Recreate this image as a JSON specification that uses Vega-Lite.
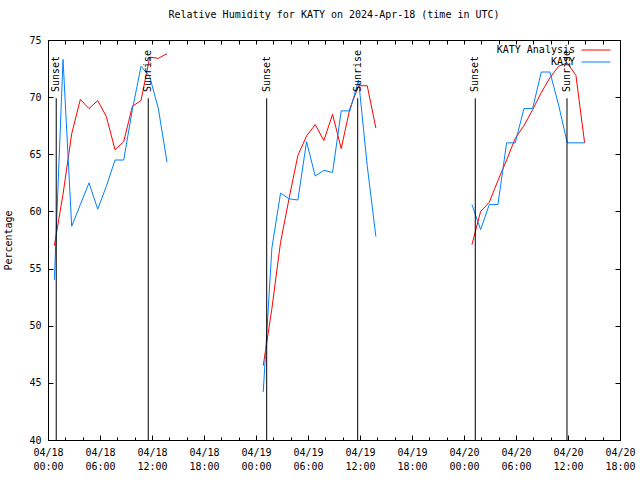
{
  "$schema": "https://vega.github.io/schema/vega-lite/v6.json",
  "width": 572,
  "height": 400,
  "autosize": {"type": "none"},
  "padding": {"left": 48, "top": 40, "right": 20, "bottom": 40},
  "background": "white",
  "title": {"text": "Relative Humidity for KATY on 2024-Apr-18 (time in UTC)", "anchor": "middle", "frame": "group", "offset": 15, "font": "DejaVu Sans Mono", "fontSize": 10, "fontWeight": "normal", "color": "black"},
  "config": {
    "view": {"stroke": "black", "strokeWidth": 1},
    "font": "DejaVu Sans Mono",
    "axis": {"labelFont": "DejaVu Sans Mono", "labelFontSize": 10, "labelColor": "black", "tickColor": "black", "tickWidth": 1, "titleFont": "DejaVu Sans Mono", "titleFontSize": 10, "titleFontWeight": "normal", "titleColor": "black", "grid": false, "domain": false}
  },
  "datasets": {
    "series": [
      {"t": "2024-04-18T00:44:00Z", "v": 57.0, "s": "KATY Analysis", "g": 1},
      {"t": "2024-04-18T01:44:00Z", "v": 61.5, "s": "KATY Analysis", "g": 1},
      {"t": "2024-04-18T02:44:00Z", "v": 66.8, "s": "KATY Analysis", "g": 1},
      {"t": "2024-04-18T03:44:00Z", "v": 69.8, "s": "KATY Analysis", "g": 1},
      {"t": "2024-04-18T04:44:00Z", "v": 69.0, "s": "KATY Analysis", "g": 1},
      {"t": "2024-04-18T05:44:00Z", "v": 69.7, "s": "KATY Analysis", "g": 1},
      {"t": "2024-04-18T06:44:00Z", "v": 68.3, "s": "KATY Analysis", "g": 1},
      {"t": "2024-04-18T07:44:00Z", "v": 65.4, "s": "KATY Analysis", "g": 1},
      {"t": "2024-04-18T08:44:00Z", "v": 66.1, "s": "KATY Analysis", "g": 1},
      {"t": "2024-04-18T09:44:00Z", "v": 69.2, "s": "KATY Analysis", "g": 1},
      {"t": "2024-04-18T10:44:00Z", "v": 69.7, "s": "KATY Analysis", "g": 1},
      {"t": "2024-04-18T11:44:00Z", "v": 73.5, "s": "KATY Analysis", "g": 1},
      {"t": "2024-04-18T12:44:00Z", "v": 73.4, "s": "KATY Analysis", "g": 1},
      {"t": "2024-04-18T13:44:00Z", "v": 73.8, "s": "KATY Analysis", "g": 1},
      {"t": "2024-04-19T00:50:00Z", "v": 46.5, "s": "KATY Analysis", "g": 2},
      {"t": "2024-04-19T01:50:00Z", "v": 51.5, "s": "KATY Analysis", "g": 2},
      {"t": "2024-04-19T02:50:00Z", "v": 57.3, "s": "KATY Analysis", "g": 2},
      {"t": "2024-04-19T03:50:00Z", "v": 61.2, "s": "KATY Analysis", "g": 2},
      {"t": "2024-04-19T04:50:00Z", "v": 64.9, "s": "KATY Analysis", "g": 2},
      {"t": "2024-04-19T05:50:00Z", "v": 66.6, "s": "KATY Analysis", "g": 2},
      {"t": "2024-04-19T06:50:00Z", "v": 67.6, "s": "KATY Analysis", "g": 2},
      {"t": "2024-04-19T07:50:00Z", "v": 66.2, "s": "KATY Analysis", "g": 2},
      {"t": "2024-04-19T08:50:00Z", "v": 68.5, "s": "KATY Analysis", "g": 2},
      {"t": "2024-04-19T09:50:00Z", "v": 65.5, "s": "KATY Analysis", "g": 2},
      {"t": "2024-04-19T10:50:00Z", "v": 69.0, "s": "KATY Analysis", "g": 2},
      {"t": "2024-04-19T11:50:00Z", "v": 71.0, "s": "KATY Analysis", "g": 2},
      {"t": "2024-04-19T12:50:00Z", "v": 71.0, "s": "KATY Analysis", "g": 2},
      {"t": "2024-04-19T13:50:00Z", "v": 67.3, "s": "KATY Analysis", "g": 2},
      {"t": "2024-04-20T00:55:00Z", "v": 57.1, "s": "KATY Analysis", "g": 3},
      {"t": "2024-04-20T01:55:00Z", "v": 60.0, "s": "KATY Analysis", "g": 3},
      {"t": "2024-04-20T02:55:00Z", "v": 60.8, "s": "KATY Analysis", "g": 3},
      {"t": "2024-04-20T03:55:00Z", "v": 62.7, "s": "KATY Analysis", "g": 3},
      {"t": "2024-04-20T04:55:00Z", "v": 64.5, "s": "KATY Analysis", "g": 3},
      {"t": "2024-04-20T05:55:00Z", "v": 66.4, "s": "KATY Analysis", "g": 3},
      {"t": "2024-04-20T06:55:00Z", "v": 67.5, "s": "KATY Analysis", "g": 3},
      {"t": "2024-04-20T07:55:00Z", "v": 68.9, "s": "KATY Analysis", "g": 3},
      {"t": "2024-04-20T08:55:00Z", "v": 70.4, "s": "KATY Analysis", "g": 3},
      {"t": "2024-04-20T09:55:00Z", "v": 71.7, "s": "KATY Analysis", "g": 3},
      {"t": "2024-04-20T10:55:00Z", "v": 72.7, "s": "KATY Analysis", "g": 3},
      {"t": "2024-04-20T11:55:00Z", "v": 73.0, "s": "KATY Analysis", "g": 3},
      {"t": "2024-04-20T12:55:00Z", "v": 71.9, "s": "KATY Analysis", "g": 3},
      {"t": "2024-04-20T13:55:00Z", "v": 66.0, "s": "KATY Analysis", "g": 3},
      {"t": "2024-04-18T00:44:00Z", "v": 54.0, "s": "KATY", "g": 1},
      {"t": "2024-04-18T01:44:00Z", "v": 73.3, "s": "KATY", "g": 1},
      {"t": "2024-04-18T02:44:00Z", "v": 58.7, "s": "KATY", "g": 1},
      {"t": "2024-04-18T03:44:00Z", "v": 60.6, "s": "KATY", "g": 1},
      {"t": "2024-04-18T04:44:00Z", "v": 62.5, "s": "KATY", "g": 1},
      {"t": "2024-04-18T05:44:00Z", "v": 60.2, "s": "KATY", "g": 1},
      {"t": "2024-04-18T06:44:00Z", "v": 62.2, "s": "KATY", "g": 1},
      {"t": "2024-04-18T07:44:00Z", "v": 64.5, "s": "KATY", "g": 1},
      {"t": "2024-04-18T08:44:00Z", "v": 64.5, "s": "KATY", "g": 1},
      {"t": "2024-04-18T09:44:00Z", "v": 68.9, "s": "KATY", "g": 1},
      {"t": "2024-04-18T10:44:00Z", "v": 72.7, "s": "KATY", "g": 1},
      {"t": "2024-04-18T11:44:00Z", "v": 71.8, "s": "KATY", "g": 1},
      {"t": "2024-04-18T12:44:00Z", "v": 69.0, "s": "KATY", "g": 1},
      {"t": "2024-04-18T13:44:00Z", "v": 64.3, "s": "KATY", "g": 1},
      {"t": "2024-04-19T00:50:00Z", "v": 44.2, "s": "KATY", "g": 2},
      {"t": "2024-04-19T01:50:00Z", "v": 56.8, "s": "KATY", "g": 2},
      {"t": "2024-04-19T02:50:00Z", "v": 61.6, "s": "KATY", "g": 2},
      {"t": "2024-04-19T03:50:00Z", "v": 61.1, "s": "KATY", "g": 2},
      {"t": "2024-04-19T04:50:00Z", "v": 61.0, "s": "KATY", "g": 2},
      {"t": "2024-04-19T05:50:00Z", "v": 66.1, "s": "KATY", "g": 2},
      {"t": "2024-04-19T06:50:00Z", "v": 63.1, "s": "KATY", "g": 2},
      {"t": "2024-04-19T07:50:00Z", "v": 63.6, "s": "KATY", "g": 2},
      {"t": "2024-04-19T08:50:00Z", "v": 63.4, "s": "KATY", "g": 2},
      {"t": "2024-04-19T09:50:00Z", "v": 68.8, "s": "KATY", "g": 2},
      {"t": "2024-04-19T10:50:00Z", "v": 68.8, "s": "KATY", "g": 2},
      {"t": "2024-04-19T11:50:00Z", "v": 71.5, "s": "KATY", "g": 2},
      {"t": "2024-04-19T12:50:00Z", "v": 64.0, "s": "KATY", "g": 2},
      {"t": "2024-04-19T13:50:00Z", "v": 57.8, "s": "KATY", "g": 2},
      {"t": "2024-04-20T00:55:00Z", "v": 60.6, "s": "KATY", "g": 3},
      {"t": "2024-04-20T01:55:00Z", "v": 58.4, "s": "KATY", "g": 3},
      {"t": "2024-04-20T02:55:00Z", "v": 60.6, "s": "KATY", "g": 3},
      {"t": "2024-04-20T03:55:00Z", "v": 60.6, "s": "KATY", "g": 3},
      {"t": "2024-04-20T04:55:00Z", "v": 66.0, "s": "KATY", "g": 3},
      {"t": "2024-04-20T05:55:00Z", "v": 66.0, "s": "KATY", "g": 3},
      {"t": "2024-04-20T06:55:00Z", "v": 69.0, "s": "KATY", "g": 3},
      {"t": "2024-04-20T07:55:00Z", "v": 69.0, "s": "KATY", "g": 3},
      {"t": "2024-04-20T08:55:00Z", "v": 72.2, "s": "KATY", "g": 3},
      {"t": "2024-04-20T09:55:00Z", "v": 72.2, "s": "KATY", "g": 3},
      {"t": "2024-04-20T10:55:00Z", "v": 69.3, "s": "KATY", "g": 3},
      {"t": "2024-04-20T11:55:00Z", "v": 66.0, "s": "KATY", "g": 3},
      {"t": "2024-04-20T12:55:00Z", "v": 66.0, "s": "KATY", "g": 3},
      {"t": "2024-04-20T13:55:00Z", "v": 66.0, "s": "KATY", "g": 3}
    ],
    "sun": [
      {"t": "2024-04-18T00:57:00Z", "label": "Sunset"},
      {"t": "2024-04-18T11:34:00Z", "label": "Sunrise"},
      {"t": "2024-04-19T01:14:00Z", "label": "Sunset"},
      {"t": "2024-04-19T11:44:00Z", "label": "Sunrise"},
      {"t": "2024-04-20T01:18:00Z", "label": "Sunset"},
      {"t": "2024-04-20T11:53:00Z", "label": "Sunrise"}
    ]
  },
  "resolve": {"axis": {"x": "independent", "y": "independent"}},
  "layer": [
    {
      "data": {"name": "series"},
      "mark": {"type": "line", "strokeWidth": 1},
      "encoding": {
        "x": {"field": "t", "type": "temporal",
          "scale": {"type": "utc", "domain": [1713398400000, 1713636000000], "nice": false},
          "axis": {"orient": "bottom", "title": null,
            "values": [1713398400000, 1713420000000, 1713441600000, 1713463200000, 1713484800000, 1713506400000, 1713528000000, 1713549600000, 1713571200000, 1713592800000, 1713614400000, 1713636000000],
            "tickSize": -5, "labelPadding": 12, "labelBaseline": "top", "labelLineHeight": 14,
            "labelExpr": "[utcFormat(datum.value, '%m/%d'), utcFormat(datum.value, '%H:%M')]",
            "labelFlush": false, "labelOverlap": false, "labelBound": false}},
        "y": {"field": "v", "type": "quantitative",
          "scale": {"domain": [40, 75], "nice": false, "zero": false},
          "axis": {"orient": "left", "title": "Percentage", "values": [40, 45, 50, 55, 60, 65, 70, 75], "tickSize": -5, "labelPadding": 12, "titlePadding": 15}},
        "color": {"field": "s", "type": "nominal",
          "scale": {"domain": ["KATY Analysis", "KATY"], "range": ["#ff0000", "#0080ff"]},
          "legend": {"title": null, "orient": "none", "legendX": 541, "legendY": 3, "symbolType": "M-2.23,0H2.23", "symbolSize": 169, "symbolStrokeWidth": 1, "symbolFillColor": "transparent", "rowPadding": 0, "labelAlign": "right", "labelOffset": -28, "labelFont": "DejaVu Sans Mono", "labelFontSize": 10, "labelColor": "black", "padding": 0, "offset": 0}},
        "detail": {"field": "g", "type": "nominal"}
      }
    },
    {
      "data": {"name": "sun"},
      "mark": {"type": "text", "angle": 270, "align": "left", "baseline": "middle", "font": "DejaVu Sans Mono", "fontSize": 10, "color": "black"},
      "encoding": {
        "x": {"field": "t", "type": "temporal",
          "axis": {"orient": "bottom", "title": null, "labels": false, "tickSize": -3,
            "values": [1713398400000, 1713405600000, 1713412800000, 1713420000000, 1713427200000, 1713434400000, 1713441600000, 1713448800000, 1713456000000, 1713463200000, 1713470400000, 1713477600000, 1713484800000, 1713492000000, 1713499200000, 1713506400000, 1713513600000, 1713520800000, 1713528000000, 1713535200000, 1713542400000, 1713549600000, 1713556800000, 1713564000000, 1713571200000, 1713578400000, 1713585600000, 1713592800000, 1713600000000, 1713607200000, 1713614400000, 1713621600000, 1713628800000, 1713636000000]}},
        "y": {"datum": 70.45, "type": "quantitative", "axis": null},
        "text": {"field": "label", "type": "nominal"}
      }
    },
    {
      "data": {"name": "sun"},
      "mark": {"type": "rule", "color": "black", "strokeWidth": 1},
      "encoding": {
        "x": {"field": "t", "type": "temporal",
          "axis": {"orient": "top", "title": null, "labels": false, "tickSize": -4,
            "values": [1713398400000, 1713405600000, 1713412800000, 1713420000000, 1713427200000, 1713434400000, 1713441600000, 1713448800000, 1713456000000, 1713463200000, 1713470400000, 1713477600000, 1713484800000, 1713492000000, 1713499200000, 1713506400000, 1713513600000, 1713520800000, 1713528000000, 1713535200000, 1713542400000, 1713549600000, 1713556800000, 1713564000000, 1713571200000, 1713578400000, 1713585600000, 1713592800000, 1713600000000, 1713607200000, 1713614400000, 1713621600000, 1713628800000, 1713636000000]}},
        "y": {"datum": 40, "type": "quantitative",
          "axis": {"orient": "right", "title": null, "labels": false, "values": [40, 45, 50, 55, 60, 65, 70, 75], "tickSize": -5}},
        "y2": {"datum": 69.9}
      }
    }
  ]
}
